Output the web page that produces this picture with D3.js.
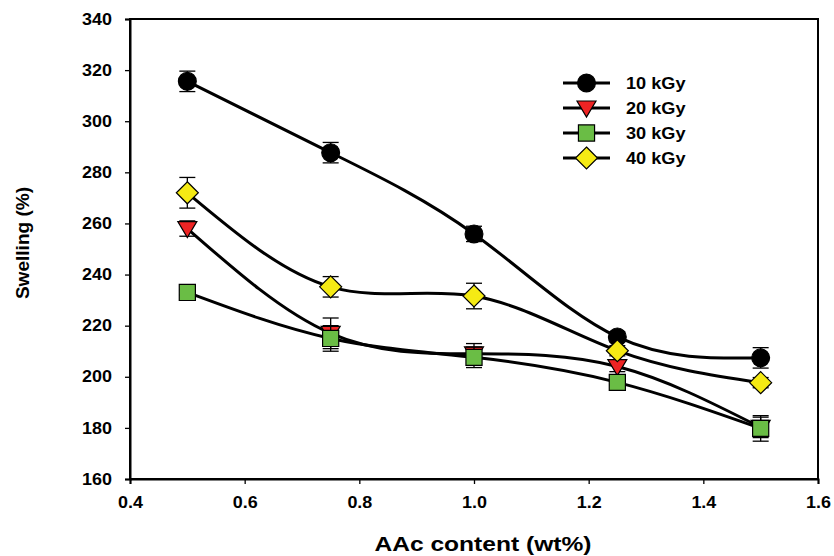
<!DOCTYPE html>
<html>
<head>
<meta charset="utf-8">
<script src="https://cdn.jsdelivr.net/npm/d3@7"></script>
<style>
  body { margin: 0; background: #fff; }
  svg { font-family: Arial, "Liberation Sans", sans-serif; }
</style>
</head>
<body>
<svg id="chart" width="834" height="556"></svg>
<script>
// AAc content values (x)
const aacContent = [0.5, 0.75, 1.0, 1.25, 1.5];

// swelling (%) per dose
const swell10 = [315.6, 287.7, 255.9, 215.6, 207.4];
const swell20 = [258.0, 217.0, 209.0, 204.0, 180.2];
const swell30 = [233.0, 215.0, 207.6, 197.8, 179.8];
const swell40 = [272.0, 235.2, 231.6, 210.2, 197.7];

// error (+/-)
const err10 = [4, 4, 3, 2, 4];
const err20 = [3, 6, 4, 2, 4];
const err30 = [1, 5, 4, 1, 5];
const err40 = [6, 4, 5, 2, 2];

const doseLabels = ["10 kGy", "20 kGy", "30 kGy", "40 kGy"];
const xTicks = [0.4, 0.6, 0.8, 1.0, 1.2, 1.4, 1.6];
const yTicks = [160, 180, 200, 220, 240, 260, 280, 300, 320, 340];

const series = [
  { name: doseLabels[0], values: swell10, err: err10, shape: "circle", fill: "#000000" },
  { name: doseLabels[1], values: swell20, err: err20, shape: "triangle", fill: "#ee2424" },
  { name: doseLabels[2], values: swell30, err: err30, shape: "square", fill: "#6abd45" },
  { name: doseLabels[3], values: swell40, err: err40, shape: "diamond", fill: "#f5ea14" }
];

const margin = { left: 130, right: 16, top: 19, bottom: 77 };
const width = 834, height = 556;

const svg = d3.select("#chart");

const x = d3.scaleLinear().domain([0.4, 1.6]).range([margin.left, width - margin.right]);
const y = d3.scaleLinear().domain([160, 340]).range([height - margin.bottom, margin.top]);

// the original text is a bit wider than plain Arial bold, stretch it
function stretch(sel, factor) {
  sel.each(function () {
    const len = this.getComputedTextLength();
    d3.select(this)
      .attr("textLength", len * factor)
      .attr("lengthAdjust", "spacingAndGlyphs");
  });
}

// frame
svg.append("rect")
  .attr("x", x(0.4)).attr("y", y(340))
  .attr("width", x(1.6) - x(0.4)).attr("height", y(160) - y(340))
  .attr("fill", "none").attr("stroke", "#000").attr("stroke-width", 2);

// axes
const xAxis = svg.append("g")
  .attr("transform", `translate(0,${y(160)})`)
  .call(d3.axisBottom(x).tickValues(xTicks).tickFormat(d3.format(".1f")).tickSize(5).tickPadding(9));
const yAxis = svg.append("g")
  .attr("transform", `translate(${x(0.4)},0)`)
  .call(d3.axisLeft(y).tickValues(yTicks).tickSize(5).tickPadding(13));

[xAxis, yAxis].forEach(ax => {
  ax.attr("font-size", null).attr("font-family", null);
  ax.select(".domain").attr("stroke-width", 2);
  ax.selectAll(".tick line").attr("stroke-width", 1.3);
  ax.selectAll("text")
    .style("font-size", "16px")
    .style("font-weight", "bold")
    .attr("fill", "#000")
    .call(stretch, 1.12);
});
xAxis.selectAll("text").attr("dy", "0.95em");

// axis titles
svg.append("text")
  .attr("x", 483).attr("y", 551)
  .attr("text-anchor", "middle")
  .style("font-size", "19.5px").style("font-weight", "bold")
  .text("AAc content (wt%)")
  .call(stretch, 1.26);
svg.append("text")
  .attr("transform", `translate(29,${(y(160) + y(340)) / 2 - 6}) rotate(-90)`)
  .attr("text-anchor", "middle")
  .style("font-size", "18.5px").style("font-weight", "bold")
  .text("Swelling (%)")
  .call(stretch, 1.03);

const line = d3.line()
  .x((d, i) => x(aacContent[i]))
  .y(d => y(d))
  .curve(d3.curveNatural);

const symbolPath = {
  circle: d3.symbol(d3.symbolCircle, 250)(),
  square: d3.symbol(d3.symbolSquare, 260)(),
  diamond: "M0,-11L11,0L0,11L-11,0Z",
  triangle: "M-9.5,-7L9.5,-7L0,9Z"
};

function drawMarker(g, s, cx, cy) {
  g.append("path")
    .attr("d", symbolPath[s.shape])
    .attr("transform", `translate(${cx},${cy})`)
    .attr("fill", s.fill)
    .attr("stroke", "#000")
    .attr("stroke-width", 1.2);
}

series.forEach(s => {
  const g = svg.append("g");

  // error bars
  const eb = g.selectAll(".eb").data(s.values).join("g");
  eb.append("line")
    .attr("x1", (d, i) => x(aacContent[i])).attr("x2", (d, i) => x(aacContent[i]))
    .attr("y1", (d, i) => y(d + s.err[i])).attr("y2", (d, i) => y(d - s.err[i]))
    .attr("stroke", "#000").attr("stroke-width", 1.3);
  [1, -1].forEach(sign => {
    eb.append("line")
      .attr("x1", (d, i) => x(aacContent[i]) - 8).attr("x2", (d, i) => x(aacContent[i]) + 8)
      .attr("y1", (d, i) => y(d + sign * s.err[i])).attr("y2", (d, i) => y(d + sign * s.err[i]))
      .attr("stroke", "#000").attr("stroke-width", 1.3);
  });

  g.append("path")
    .datum(s.values)
    .attr("d", line)
    .attr("fill", "none")
    .attr("stroke", "#000")
    .attr("stroke-width", 3);

  s.values.forEach((v, i) => drawMarker(g, s, x(aacContent[i]), y(v)));
});

// legend
const legend = svg.append("g");
series.forEach((s, i) => {
  const ly = 83 + i * 25;
  legend.append("line")
    .attr("x1", 563).attr("x2", 610).attr("y1", ly).attr("y2", ly)
    .attr("stroke", "#000").attr("stroke-width", 3);
  drawMarker(legend, s, 586.5, ly);
  legend.append("text")
    .attr("x", 626).attr("y", ly + 6)
    .style("font-size", "16.5px").style("font-weight", "bold")
    .text(s.name)
    .call(stretch, 1.1);
});
</script>
</body>
</html>
